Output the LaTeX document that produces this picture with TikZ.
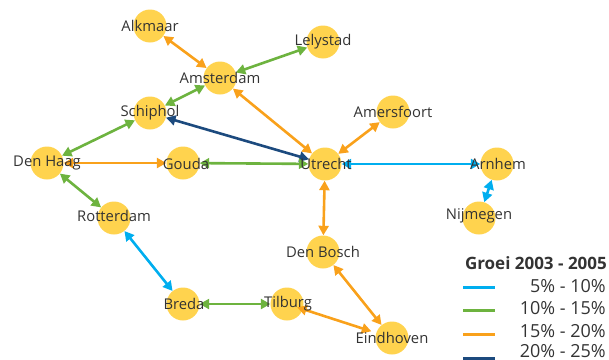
\documentclass[tikz,border=0pt]{standalone}
\usepackage{fontspec}
\setmainfont{Open Sans}
\usetikzlibrary{arrows.meta}
\definecolor{cyanL}{HTML}{00AEEF}
\definecolor{greenL}{HTML}{6DB33F}
\definecolor{orangeL}{HTML}{F9A11B}
\definecolor{navyL}{HTML}{1C4A7E}
\definecolor{cityY}{HTML}{FFD34E}
\definecolor{txt}{HTML}{333333}
\tikzset{
  city/.style={circle,fill=cityY,minimum size=33pt,inner sep=0pt},
  lbl/.style={text=txt,font=\fontsize{14.8}{17}\selectfont,inner sep=0pt},
  link/.style={line width=2.6pt,{Triangle[length=9.5pt,width=10pt]}-{Triangle[length=9.5pt,width=10pt]}},
  c5/.style={link,draw=cyanL},
  c10/.style={link,draw=greenL},
  c15/.style={link,draw=orangeL},
  c20/.style={link,draw=navyL},
  legline/.style={line width=3pt},
  legtxt/.style={text=txt,font=\fontsize{18}{20}\selectfont,anchor=east,inner sep=0pt},
}
\begin{document}
\begin{tikzpicture}[x=1pt,y=-1pt]
\useasboundingbox (0,0) rectangle (609,359);
\clip (0,0) rectangle (609,359);
% cities
\node[city] (alk) at (150,26) {};
\node[city] (ams) at (220,78) {};
\node[city] (lel) at (323,42) {};
\node[city] (sch) at (150,113) {};
\node[city] (dh)  at (47,163) {};
\node[city] (gou) at (183,163) {};
\node[city] (amf) at (393,112) {};
\node[city] (utr) at (325,164) {};
\node[city] (arn) at (497,164) {};
\node[city] (nij) at (479,218) {};
\node[city] (rot) at (114,218) {};
\node[city] (dbo) at (323,252) {};
\node[city] (bre) at (183,304) {};
\node[city] (til) at (287,304) {};
\node[city] (ein) at (392,338) {};
% connections
\draw[c15] (alk) -- (ams);
\draw[c10] (lel) -- (ams);
\draw[c10] (ams) -- (sch);
\draw[c15] (ams) -- (utr);
\draw[c20] (sch) -- (utr);
\draw[c10] (sch) -- (dh);
\draw[c15] (dh) -- (gou);
\draw[c10] (gou) -- (utr);
\draw[c15] (amf) -- (utr);
\draw[c5]  (utr) -- (arn);
\draw[c5]  (arn) -- (nij);
\draw[c15] (utr) -- (dbo);
\draw[c15] (dbo) -- (ein);
\draw[c15, shorten <=-6pt, shorten >=5pt] (til) -- (ein);
\draw[c10] (bre) -- (til);
\draw[c10] (dh) -- (rot);
\draw[c5]  (rot) -- (bre);
% labels
\node[lbl] (lalk) at (alk) {Alkmaar};
\node[lbl] (lams) at (ams) {Amsterdam};
\node[lbl] (llel) at (lel) {Lelystad};
\node[lbl] (lsch) at (sch) {Schiphol};
\node[lbl] (ldh)  at (dh)  {Den Haag};
\node[lbl] (lgou) at (186,164) {Gouda};
\node[lbl] (lamf) at (amf) {Amersfoort};
\node[lbl] (lutr) at (326,164) {Utrecht};
\node[lbl] (larn) at (498,164) {Arnhem};
\node[lbl] (lnij) at (479,216) {Nijmegen};
\node[lbl] (lrot) at (114,216) {Rotterdam};
\node[lbl] (ldbo) at (dbo) {Den Bosch};
\node[lbl] (lbre) at (184,304) {Breda};
\node[lbl] (ltil) at (288,304) {Tilburg};
\node[lbl] (lein) at (392,338) {Eindhoven};
% legend
\node[text=txt,font=\bfseries\fontsize{17}{20}\selectfont,anchor=east,inner sep=0pt] (ltitle) at (607,263) {Groei 2003 - 2005};
\coordinate (a1) at (463,287); \coordinate (b1) at (495,287);
\coordinate (a2) at (463,310); \coordinate (b2) at (495,310);
\coordinate (a3) at (463,334); \coordinate (b3) at (495,334);
\coordinate (a4) at (463,358); \coordinate (b4) at (495,358);
\draw[legline,cyanL] (a1) -- (b1);
\draw[legline,greenL] (a2) -- (b2);
\draw[legline,orangeL] (a3) -- (b3);
\draw[legline,navyL] (a4) -- (b4);
\node[legtxt] (t1) at (606,286) {5\% - 10\%};
\node[legtxt] (t2) at (606,308) {10\% - 15\%};
\node[legtxt] (t3) at (606,331) {15\% - 20\%};
\node[legtxt] (t4) at (606,351) {20\% - 25\%};
\end{tikzpicture}
\end{document}
